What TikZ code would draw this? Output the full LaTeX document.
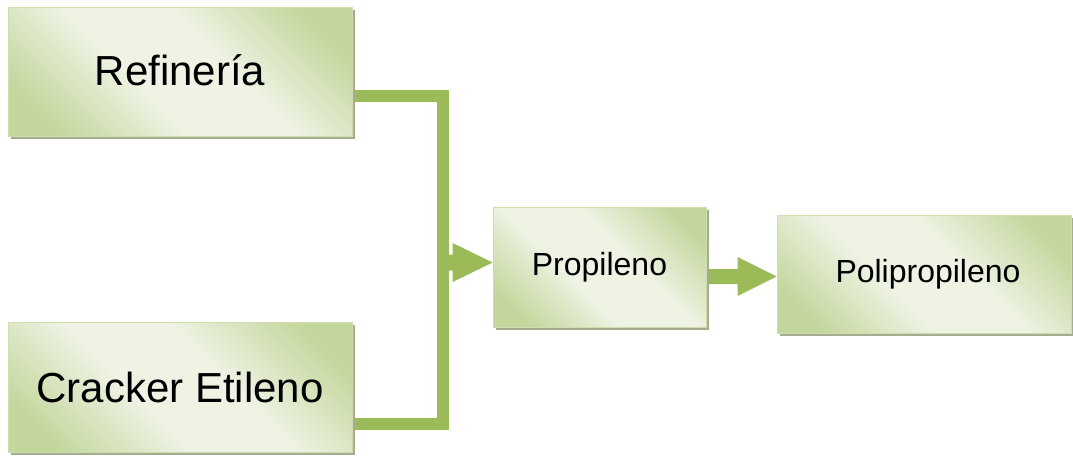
\documentclass[tikz,border=0pt]{standalone}
\usepackage{fontspec}
\setmainfont{Liberation Sans}
\usetikzlibrary{calc,shadows}

\definecolor{boxdark}{HTML}{C3D69B}
\definecolor{boxlight}{HTML}{EEF3E4}
\definecolor{boxline}{HTML}{CFDDB0}
\definecolor{boxshadow}{HTML}{A5AD90}
\definecolor{flowgreen}{HTML}{9BBB59}

\pgfdeclarelayer{background}
\pgfsetlayers{background,main}

% light diagonal band between darker corners
\pgfdeclarehorizontalshading{greenband}{100bp}{%
  color(0bp)=(boxdark); color(22bp)=(boxdark); color(42bp)=(boxlight);
  color(58bp)=(boxlight); color(78bp)=(boxdark); color(100bp)=(boxdark)}

\tikzset{
  procbox/.style={rectangle, draw=boxline, line width=0.8pt,
    shading=greenband, shading angle=45,
    general shadow={fill=boxshadow, shadow xshift=3pt, shadow yshift=-3pt},
    inner sep=0pt, align=center, text=black},
  bigtext/.style={font=\fontsize{42}{50}\selectfont},
  smalltext/.style={font=\fontsize{32}{38}\selectfont},
  elbow/.style={draw=flowgreen, line width=12pt, line join=miter, line cap=butt},
  blockarrow/.style={fill=flowgreen}
}

\begin{document}
\begin{tikzpicture}[x=1pt, y=-1pt]
\useasboundingbox (0,0) rectangle (1073,455);

% vertical collector bar position
\coordinate (bus) at (443,0);

% source and product boxes
\node[procbox, bigtext, minimum width=344pt, minimum height=129pt]
  (ref) at (180,71.5) {\raisebox{3pt}{Refinería}};
\node[procbox, bigtext, minimum width=344pt, minimum height=130pt]
  (crk) at (180,387) {Cracker Etileno};
\node[procbox, smalltext, minimum width=213pt, minimum height=120pt]
  (prop) at (599.5,267) {\raisebox{2pt}{Propileno}};
\node[procbox, smalltext, minimum width=294pt, minimum height=118pt]
  (pp) at (924,274) {\hspace{8pt}Polipropileno};

\begin{pgfonlayer}{background}
% elbow feeding both sources into the collector bar
\coordinate (r1) at ($(ref.east)+(-2,24.5)$);
\coordinate (c1) at ($(crk.east)+(-2,36.5)$);
\draw[elbow] (r1) -- (r1 -| bus) -- (c1 -| bus) -- (c1);

% block arrow: collector bar -> Propileno
\coordinate (t1) at ($(prop.west)+(0,-4.5)$);
\fill[blockarrow] (t1) -- ++(-40,-19.5) -- ++(0,11.5) -- ++(-8,0)
  -- ++(0,16) -- ++(8,0) -- ++(0,11.5) -- cycle;

% block arrow: Propileno -> Polipropileno
\coordinate (t2) at ($(pp.west)+(0,2.5)$);
\fill[blockarrow] (t2) -- ++(-39,-19.5) -- ++(0,12) -- ($(prop.east |- t2)+(-2,-7.5)$)
  -- ($(prop.east |- t2)+(-2,7.5)$) -- ($(t2)+(-39,7.5)$) -- ++(0,12) -- cycle;
\end{pgfonlayer}
\end{tikzpicture}
\end{document}
